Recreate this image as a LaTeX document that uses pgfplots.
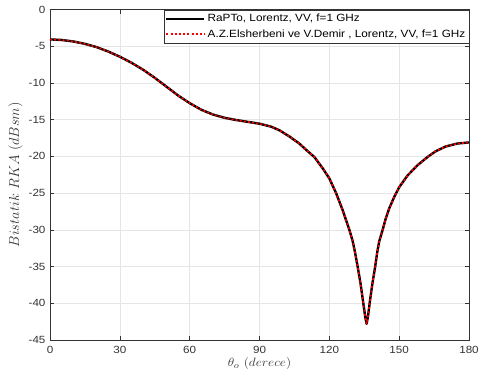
\documentclass[border=0pt]{standalone}
\usepackage{graphicx}
\usepackage{pgfplots}
\pgfplotsset{compat=1.18}
\usetikzlibrary{calc}
\usepackage{fontspec}
\setmainfont{Liberation Sans}[FakeStretch=1.12]
\pgfplotstableread{
x y
0 -4.07
5 -4.15
10 -4.35
15 -4.68
20 -5.12
25 -5.72
30 -6.43
35 -7.25
40 -8.2
45 -9.3
50 -10.5
55 -11.7
60 -12.75
65 -13.65
70 -14.3
75 -14.75
80 -15.05
85 -15.3
90 -15.55
95 -15.95
98.6 -16.45
102.9 -17.3
107.1 -18.25
110 -19.1
113.6 -20.1
117.1 -21.6
120 -23.0
122.9 -25.0
125.7 -27.3
128.6 -30.0
130 -31.5
131 -33.0
132.1 -34.9
133.4 -37.3
134.6 -40.0
135.4 -41.8
136 -42.8
136.6 -41.8
137.4 -39.8
138.5 -37.3
139.7 -35.0
140.5 -33.2
141.4 -31.6
142.9 -30.0
144.2 -28.5
145.7 -27.1
147.9 -25.5
150 -24.2
153.6 -22.6
157.9 -21.2
162.1 -20.1
165.7 -19.3
170 -18.65
175 -18.25
180 -18.1
}\rcs
\definecolor{axgray}{gray}{0.2}
\definecolor{gridgray}{gray}{0.9}
\begin{document}
\begin{tikzpicture}
\begin{axis}[
  name=ax,
  scale only axis,
  width=419pt, height=330.5pt,
  xmin=0, xmax=180, ymin=-45, ymax=0,
  xtick={0,30,...,180},
  ytick={-45,-40,...,0},
  grid=major,
  major grid style={gridgray, line width=0.6pt},
  axis line style={axgray, line width=0.6pt},
  tick style={axgray, line width=0.6pt},
  tick align=inside,
  major tick length=4pt,
  ticklabel style={font=\fontsize{10.4}{12}\selectfont, text=axgray},
  /pgf/number format/assume math mode=true,
  xticklabel style={yshift=-3pt},
  yticklabel style={xshift=-1pt},
  xlabel={\scalebox{1.12}[1]{$\theta_o\ (derece)$}},
  ylabel={$Bistatik\ RKA\ (dBsm)$},
  xlabel style={font=\fontsize{12.5}{14}\selectfont, text=axgray, yshift=3pt},
  ylabel style={font=\fontsize{14}{16}\selectfont, text=axgray, yshift=-1pt},
  legend style={at={(1,1)}, anchor=north east, draw=axgray,
    font=\fontsize{10.5}{11}\selectfont, fill=white, inner xsep=1.5pt, inner ysep=2.5pt,
    row sep=2.5pt, legend cell align=left},
  legend image code/.code={\draw[#1] (0pt,0pt) -- (38pt,0pt);},
]
\addplot[draw=black, line width=2.4pt, line join=round, forget plot] table[x=x,y=y]{\rcs};
\addplot[draw=red, line width=1.7pt, line join=round, dash pattern=on 2pt off 2.2pt, forget plot] table[x=x,y=y]{\rcs};
\addlegendimage{draw=black, line width=2.4pt}
\addlegendentry{RaPTo, Lorentz, VV, f=1 GHz}
\addlegendimage{draw=red, line width=2.2pt, dash pattern=on 2pt off 2.2pt}
\addlegendentry{A.Z.Elsherbeni ve V.Demir , Lorentz, VV, f=1 GHz}
\end{axis}
\pgfresetboundingbox
\useasboundingbox ($(ax.south west)+(-50pt,-43pt)$) rectangle ($(ax.north east)+(10pt,9.5pt)$);
\end{tikzpicture}
\end{document}
